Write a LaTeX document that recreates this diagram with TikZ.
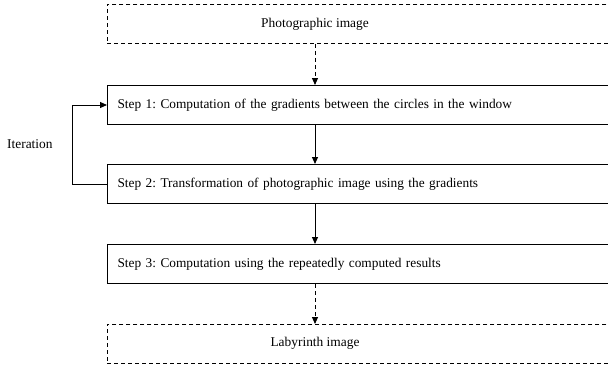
\documentclass[tikz,border=0pt]{standalone}
\usepackage{fontspec}
\setmainfont{Liberation Serif}
\usetikzlibrary{arrows.meta}
\frenchspacing
\newcommand\myboxfont{\fontsize{13.35}{15}\selectfont\spaceskip=3.9pt plus 1pt\relax}
\begin{document}
\begin{tikzpicture}[x=1pt,y=-1pt,
  box/.style={draw, line width=1pt, rectangle, anchor=north west, minimum height=39pt, inner xsep=10pt, inner ysep=0pt, text width=483pt, align=left, font=\myboxfont},
  dbox/.style={box, line width=0.9pt, dash pattern=on 4pt off 3pt},
  arr/.style={line width=1pt, -{Triangle[length=7pt,width=6pt]}},
  darr/.style={arr, line width=0.9pt, dash pattern=on 4pt off 3pt},
  lbl/.style={font=\fontsize{13.4}{15}\selectfont, inner sep=0pt}]
\useasboundingbox (0,0) rectangle (608,370);
\node[dbox] (photo) at (107,4) {};
\node[lbl] (phototext) at (315,24) {Photographic image};
\node[box] (s1) at (107,85) {Step 1: Computation of the gradients between the circles in the window};
\node[box] (s2) at (107,164) {Step 2: Transformation of photographic image using the gradients};
\node[box] (s3) at (107,244) {Step 3: Computation using the repeatedly computed results};
\node[dbox] (laby) at (107,324) {};
\node[lbl] (labytext) at (315,343) {Labyrinth image};
\node[lbl, anchor=west] (iter) at (7,144) {Iteration};
\coordinate (c1) at (315,0);
\draw[darr] (photo.south -| c1) -- (s1.north -| c1);
\draw[arr] (s1.south -| c1) -- (s2.north -| c1);
\draw[arr] (s2.south -| c1) -- (s3.north -| c1);
\draw[darr] (s3.south -| c1) -- (laby.north -| c1);
\draw[arr] (s2.west) -- ++(-35,0) |- (s1.west);
\end{tikzpicture}
\end{document}
